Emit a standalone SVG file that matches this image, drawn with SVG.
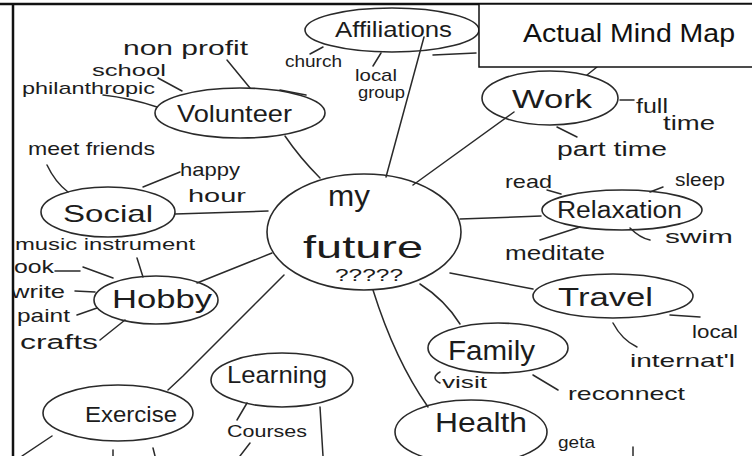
<svg xmlns="http://www.w3.org/2000/svg" width="752" height="456" viewBox="0 0 752 456">
  <style>
    .bub { fill: none; stroke: #2a2a2a; stroke-width: 1.6; }
    .ln { fill: none; stroke: #2a2a2a; stroke-width: 1.5; stroke-linecap: round; }
    .hw { font-family: "Liberation Sans", Arial, sans-serif; fill: #1c1c1c; }
    .title { font-family: "Liberation Sans", Arial, sans-serif; font-size: 25px; fill: #111; }
  </style>
  <defs>
    <clipPath id="sheet"><rect x="14" y="5" width="738" height="451"/></clipPath>
  </defs>
  <rect width="752" height="456" fill="#ffffff"/>

  <g clip-path="url(#sheet)">
    <!-- connectors: spokes from the centre and short strokes to the side words -->
    <g id="connectors">
      <path class="ln" d="M285,136 Q300,158 320,178"/>
      <path class="ln" d="M386,177 Q404,110 424,37"/>
      <path class="ln" d="M413,185 L514,112"/>
      <path class="ln" d="M460,219 L541,216"/>
      <path class="ln" d="M175,214 L268,211"/>
      <path class="ln" d="M197,283 L272,253"/>
      <path class="ln" d="M450,273 L533,289"/>
      <path class="ln" d="M420,284 Q445,300 460,324"/>
      <path class="ln" d="M373,290 Q395,360 428,407"/>
      <path class="ln" d="M284,275 L183,376 L168,390"/>

      <path class="ln" d="M310,54 L323,47"/>
      <path class="ln" d="M373,66 L381,53"/>
      <path class="ln" d="M433,55 L476,53"/>
      <path class="ln" d="M227,60 L250,88"/>
      <path class="ln" d="M158,78 L182,91"/>
      <path class="ln" d="M103,95 Q130,98 157,107"/>
      <path class="ln" d="M280,90 L306,95"/>
      <path class="ln" d="M597,67 L587,75"/>
      <path class="ln" d="M620,100 L634,100"/>
      <path class="ln" d="M557,127 L577,137"/>
      <path class="ln" d="M47,165 Q55,182 68,192"/>
      <path class="ln" d="M180,172 L143,187"/>
      <path class="ln" d="M547,190 L561,194"/>
      <path class="ln" d="M663,187 L650,192"/>
      <path class="ln" d="M630,228 Q640,238 650,240"/>
      <path class="ln" d="M540,240 L580,227"/>
      <path class="ln" d="M137,258 L143,277"/>
      <path class="ln" d="M55,271 L80,271 M83,267 L113,278"/>
      <path class="ln" d="M75,291 L95,292"/>
      <path class="ln" d="M77,315 L97,308"/>
      <path class="ln" d="M100,340 L125,320"/>
      <path class="ln" d="M670,315 L700,317"/>
      <path class="ln" d="M613,323 Q622,340 637,347"/>
      <path class="ln" d="M440,372 Q430,378 440,383"/>
      <path class="ln" d="M533,375 L558,390"/>
      <path class="ln" d="M247,403 L237,420"/>
      <path class="ln" d="M250,443 L240,456"/>
      <path class="ln" d="M320,407 L323,456"/>
      <path class="ln" d="M52,436 L22,456"/>
      <path class="ln" d="M113,450 L113,456 M153,448 L155,456"/>
      <path class="ln" d="M633,447 L633,456"/>
    </g>

    <g id="n-affiliations">
      <ellipse class="bub" cx="392" cy="30" rx="87" ry="22"/>
      <text class="hw" x="335" y="37" font-size="22" textLength="117" lengthAdjust="spacingAndGlyphs">Affiliations</text>
      <text class="hw" x="285" y="67" font-size="17" textLength="57" lengthAdjust="spacingAndGlyphs">church</text>
      <text class="hw" x="355" y="81" font-size="17" textLength="42" lengthAdjust="spacingAndGlyphs">local</text>
      <text class="hw" x="358" y="98" font-size="17" textLength="47" lengthAdjust="spacingAndGlyphs">group</text>
    </g>

    <g id="n-volunteer">
      <ellipse class="bub" cx="240" cy="113" rx="85" ry="25"/>
      <text class="hw" x="177" y="122" font-size="24" textLength="115" lengthAdjust="spacingAndGlyphs">Volunteer</text>
      <text class="hw" x="123" y="55" font-size="21" textLength="125" lengthAdjust="spacingAndGlyphs">non profit</text>
      <text class="hw" x="92" y="76" font-size="17" textLength="74" lengthAdjust="spacingAndGlyphs">school</text>
      <text class="hw" x="22" y="94" font-size="17" textLength="133" lengthAdjust="spacingAndGlyphs">philanthropic</text>
    </g>

    <g id="n-work">
      <ellipse class="bub" cx="550" cy="98" rx="68" ry="27"/>
      <text class="hw" x="512" y="108" font-size="26" textLength="80" lengthAdjust="spacingAndGlyphs">Work</text>
      <text class="hw" x="636" y="113" font-size="20" textLength="32" lengthAdjust="spacingAndGlyphs">full</text>
      <text class="hw" x="663" y="130" font-size="20" textLength="52" lengthAdjust="spacingAndGlyphs">time</text>
      <text class="hw" x="557" y="156" font-size="20" textLength="110" lengthAdjust="spacingAndGlyphs">part time</text>
    </g>

    <g id="n-social">
      <ellipse class="bub" cx="108" cy="212" rx="67" ry="25"/>
      <text class="hw" x="63" y="222" font-size="24" textLength="90" lengthAdjust="spacingAndGlyphs">Social</text>
      <text class="hw" x="28" y="155" font-size="19" textLength="127" lengthAdjust="spacingAndGlyphs">meet friends</text>
      <text class="hw" x="180" y="176" font-size="19" textLength="60" lengthAdjust="spacingAndGlyphs">happy</text>
      <text class="hw" x="188" y="202" font-size="19" textLength="58" lengthAdjust="spacingAndGlyphs">hour</text>
    </g>

    <g id="n-center">
      <ellipse class="bub" cx="364" cy="232" rx="97" ry="58"/>
      <text class="hw" x="328" y="206" font-size="30" textLength="42" lengthAdjust="spacingAndGlyphs">my</text>
      <text class="hw" x="303" y="258" font-size="32" textLength="120" lengthAdjust="spacingAndGlyphs">future</text>
      <text class="hw" x="335" y="281" font-size="17" textLength="68" lengthAdjust="spacingAndGlyphs">?????</text>
    </g>

    <g id="n-relaxation">
      <ellipse class="bub" cx="622" cy="210" rx="80" ry="20"/>
      <text class="hw" x="557" y="218" font-size="23" textLength="125" lengthAdjust="spacingAndGlyphs">Relaxation</text>
      <text class="hw" x="505" y="188" font-size="19" textLength="47" lengthAdjust="spacingAndGlyphs">read</text>
      <text class="hw" x="675" y="186" font-size="19" textLength="50" lengthAdjust="spacingAndGlyphs">sleep</text>
      <text class="hw" x="505" y="260" font-size="20" textLength="100" lengthAdjust="spacingAndGlyphs">meditate</text>
      <text class="hw" x="665" y="243" font-size="19" textLength="68" lengthAdjust="spacingAndGlyphs">swim</text>
    </g>

    <g id="n-hobby">
      <ellipse class="bub" cx="156" cy="300" rx="62" ry="24"/>
      <text class="hw" x="112" y="308" font-size="26" textLength="100" lengthAdjust="spacingAndGlyphs">Hobby</text>
      <text class="hw" x="15" y="250" font-size="17" textLength="180" lengthAdjust="spacingAndGlyphs">music instrument</text>
      <text class="hw" x="14" y="273" font-size="19" textLength="40" lengthAdjust="spacingAndGlyphs">ook</text>
      <text class="hw" x="11" y="298" font-size="19" textLength="54" lengthAdjust="spacingAndGlyphs">write</text>
      <text class="hw" x="17" y="322" font-size="19" textLength="53" lengthAdjust="spacingAndGlyphs">paint</text>
      <text class="hw" x="20" y="349" font-size="20" textLength="78" lengthAdjust="spacingAndGlyphs">crafts</text>
    </g>

    <g id="n-travel">
      <ellipse class="bub" cx="613" cy="296" rx="80" ry="22"/>
      <text class="hw" x="558" y="306" font-size="26" textLength="95" lengthAdjust="spacingAndGlyphs">Travel</text>
      <text class="hw" x="692" y="338" font-size="18" textLength="46" lengthAdjust="spacingAndGlyphs">local</text>
      <text class="hw" x="630" y="367" font-size="19" textLength="105" lengthAdjust="spacingAndGlyphs">internat'l</text>
    </g>

    <g id="n-family">
      <ellipse class="bub" cx="498" cy="348" rx="70" ry="25"/>
      <text class="hw" x="448" y="360" font-size="27" textLength="87" lengthAdjust="spacingAndGlyphs">Family</text>
      <text class="hw" x="442" y="388" font-size="16" textLength="45" lengthAdjust="spacingAndGlyphs">visit</text>
      <text class="hw" x="568" y="400" font-size="19" textLength="117" lengthAdjust="spacingAndGlyphs">reconnect</text>
    </g>

    <g id="n-learning">
      <ellipse class="bub" cx="282" cy="380" rx="71" ry="27"/>
      <text class="hw" x="227" y="383" font-size="24" textLength="100" lengthAdjust="spacingAndGlyphs">Learning</text>
      <text class="hw" x="227" y="437" font-size="17" textLength="80" lengthAdjust="spacingAndGlyphs">Courses</text>
    </g>

    <g id="n-exercise">
      <ellipse class="bub" cx="118" cy="413" rx="75" ry="28"/>
      <text class="hw" x="85" y="422" font-size="22" textLength="92" lengthAdjust="spacingAndGlyphs">Exercise</text>
    </g>

    <g id="n-health">
      <ellipse class="bub" cx="471" cy="432" rx="76" ry="32"/>
      <text class="hw" x="435" y="432" font-size="28" textLength="92" lengthAdjust="spacingAndGlyphs">Health</text>
      <text class="hw" x="558" y="448" font-size="17" textLength="37" lengthAdjust="spacingAndGlyphs">geta</text>
    </g>
  </g>

  <!-- sheet frame -->
  <path d="M0,4 H752 M13,4 V456" fill="none" stroke="#111" stroke-width="2.5"/>

  <!-- caption box -->
  <g id="caption">
    <rect x="479" y="4" width="274" height="63" fill="#ffffff" stroke="#111" stroke-width="1.5"/>
    <text class="title" x="523" y="42" textLength="212" lengthAdjust="spacingAndGlyphs">Actual Mind Map</text>
  </g>
</svg>
